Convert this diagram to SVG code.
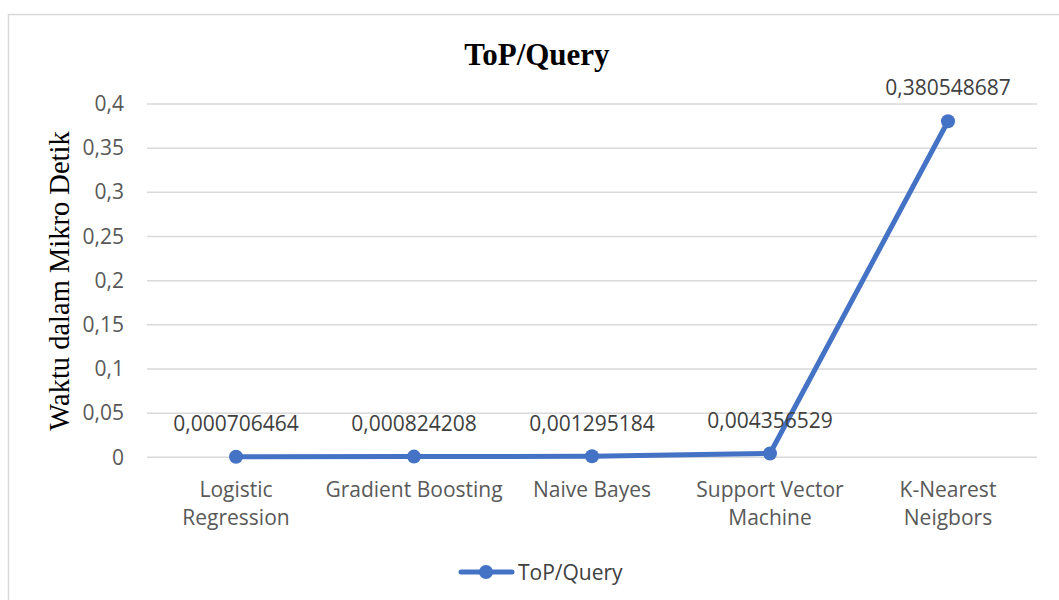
<svg xmlns="http://www.w3.org/2000/svg" width="1059" height="600" viewBox="0 0 1059 600">
  <style>
    .frame { fill: #ffffff; stroke: #d9d9d9; stroke-width: 1.5; }
    .grid { stroke: #d9d9d9; stroke-width: 1.5; }
    .tick { font-family: "Open Sans", "Liberation Sans", sans-serif; font-size: 21px; fill: #595959; }
    .cat { font-family: "Open Sans", "Liberation Sans", sans-serif; font-size: 21px; fill: #595959; text-anchor: middle; }
    .val { font-family: "Open Sans", "Liberation Sans", sans-serif; font-size: 21px; fill: #404040; text-anchor: middle; }
    .title { font-family: "Liberation Serif", "Times New Roman", serif; font-size: 31px; font-weight: bold; fill: #000000; text-anchor: middle; }
    .axis-title { font-family: "Liberation Serif", "Times New Roman", serif; font-size: 28.5px; fill: #000000; text-anchor: middle; }
    .series { fill: none; stroke: #4472c4; stroke-width: 5; stroke-linejoin: round; stroke-linecap: round; }
    .dot { fill: #4472c4; }
    .legend { font-family: "Open Sans", "Liberation Sans", sans-serif; font-size: 21px; fill: #404040; }
  </style>

  <!-- chart area -->
  <rect class="frame" x="8.5" y="14.5" width="1100" height="700"/>

  <text class="title" x="537" y="65">ToP/Query</text>
  <text class="axis-title" transform="translate(69,281) rotate(-90)">Waktu dalam Mikro Detik</text>

  <!-- gridlines: 0 .. 0.4 step 0.05 -->
  <g id="gridlines">
    <line class="grid" x1="147" y1="104" x2="1037" y2="104"/>
    <line class="grid" x1="147" y1="148.2" x2="1037" y2="148.2"/>
    <line class="grid" x1="147" y1="192.3" x2="1037" y2="192.3"/>
    <line class="grid" x1="147" y1="236.5" x2="1037" y2="236.5"/>
    <line class="grid" x1="147" y1="280.7" x2="1037" y2="280.7"/>
    <line class="grid" x1="147" y1="324.8" x2="1037" y2="324.8"/>
    <line class="grid" x1="147" y1="369" x2="1037" y2="369"/>
    <line class="grid" x1="147" y1="413.2" x2="1037" y2="413.2"/>
    <line class="grid" x1="147" y1="457.3" x2="1037" y2="457.3"/>
  </g>

  <g id="y-ticks" text-anchor="end">
    <text class="tick" x="124" y="111">0,4</text>
    <text class="tick" x="124" y="155">0,35</text>
    <text class="tick" x="124" y="199">0,3</text>
    <text class="tick" x="124" y="244">0,25</text>
    <text class="tick" x="124" y="288">0,2</text>
    <text class="tick" x="124" y="332">0,15</text>
    <text class="tick" x="124" y="376">0,1</text>
    <text class="tick" x="124" y="420">0,05</text>
    <text class="tick" x="124" y="465">0</text>
  </g>

  <g id="categories">
    <text class="cat" x="236" y="497">Logistic</text>
    <text class="cat" x="236" y="525">Regression</text>
    <text class="cat" x="414" y="497">Gradient Boosting</text>
    <text class="cat" x="592" y="497">Naive Bayes</text>
    <text class="cat" x="770" y="497">Support Vector</text>
    <text class="cat" x="770" y="525">Machine</text>
    <text class="cat" x="948" y="497">K-Nearest</text>
    <text class="cat" x="948" y="525">Neigbors</text>
  </g>

  <!-- data series -->
  <g id="connectors">
    <polyline class="series" points="236,456.7 414,456.6 592,456.2 770,453.5 948,121.2"/>
  </g>

  <g id="node-lr"><circle class="dot" cx="236" cy="456.7" r="7"/><text class="val" x="236" y="431">0,000706464</text></g>
  <g id="node-gb"><circle class="dot" cx="414" cy="456.6" r="7"/><text class="val" x="414" y="431">0,000824208</text></g>
  <g id="node-nb"><circle class="dot" cx="592" cy="456.2" r="7"/><text class="val" x="592" y="431">0,001295184</text></g>
  <g id="node-svm"><circle class="dot" cx="770" cy="453.5" r="7"/><text class="val" x="770" y="428">0,004356529</text></g>
  <g id="node-knn"><circle class="dot" cx="948" cy="121.2" r="7"/><text class="val" x="948" y="95">0,380548687</text></g>

  <!-- legend -->
  <g id="legend">
    <line class="series" x1="461" y1="572" x2="512" y2="572"/>
    <circle class="dot" cx="486" cy="572" r="7"/>
    <text class="legend" x="518" y="580">ToP/Query</text>
  </g>
</svg>
